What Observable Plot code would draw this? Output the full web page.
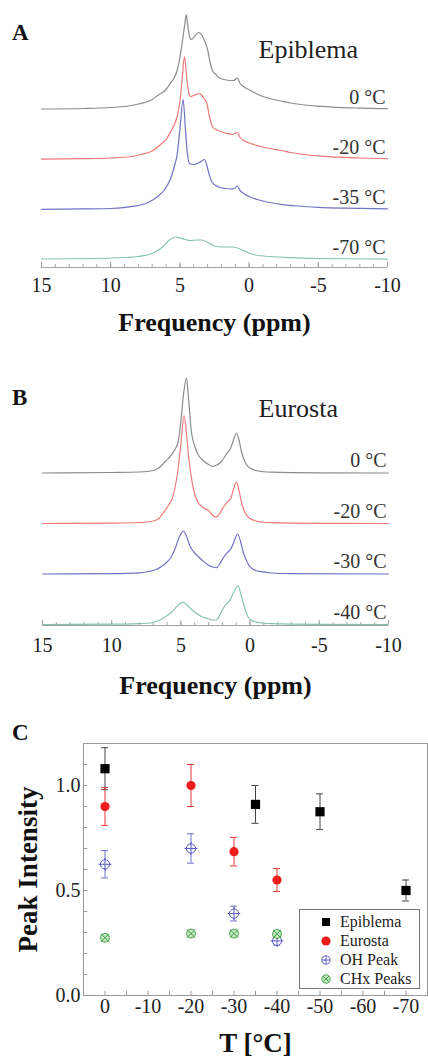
<!DOCTYPE html>
<html>
<head>
<meta charset="utf-8">
<script src="https://cdn.jsdelivr.net/npm/d3@7"></script>
<script src="https://cdn.jsdelivr.net/npm/@observablehq/plot@0.6"></script>
<style>
  html, body { margin: 0; padding: 0; background: #fff; }
  body { width: 428px; height: 1064px; position: relative; overflow: hidden; font-family: "Liberation Serif", "DejaVu Serif", serif; }
  .panel { position: absolute; left: 0; }
  .letter { position: absolute; left: 12px; font-weight: bold; font-size: 23px; line-height: 1; color: #111; }
  .legend { position: absolute; left: 299px; top: 909px; width: 119px; height: 78px; border: 1px solid #777; background: #fff; }
  .legend .row { position: absolute; left: 0; height: 19px; display: flex; align-items: center; font-size: 16px; color: #222; font-family: "Liberation Serif", serif; }
  .legend .row svg { margin-left: 20px; margin-right: 8px; }
</style>
</head>
<body>
<div class="letter" style="top:21px">A</div>
<div class="letter" style="top:386px">B</div>
<div class="letter" style="top:721px">C</div>
<div id="pA" class="panel" style="top:0px"></div>
<div id="pB" class="panel" style="top:340px"></div>
<div id="pC" class="panel" style="top:700px"></div>
<div id="legend" class="legend"></div>
<script>
// ---------------- DATA ----------------
// Panel A: Epiblema spectra, [ppm, intensity above baseline]
const epiblemaLabels = ["0 °C", "-20 °C", "-35 °C", "-70 °C"];
const epiblema0 = [[15,0.005],[12,0.01],[10,0.02],[8.5,0.04],[8,0.055],[7,0.10],[6.6,0.14],[6,0.20],[5.7,0.26],[5.4,0.32],[5.2,0.39],[5.0,0.52],[4.8,0.70],[4.65,0.85],[4.54,0.95],[4.42,0.82],[4.25,0.71],[4.15,0.70],[3.9,0.74],[3.63,0.77],[3.4,0.74],[3.2,0.68],[3.0,0.60],[2.8,0.46],[2.65,0.39],[2.4,0.35],[2.2,0.32],[1.8,0.30],[1.35,0.29],[1.1,0.29],[0.86,0.315],[0.65,0.26],[0.3,0.22],[-0.1,0.19],[-0.5,0.16],[-1.0,0.13],[-1.5,0.11],[-2.3,0.085],[-3,0.065],[-4,0.045],[-5,0.033],[-6,0.024],[-8,0.014],[-10,0.008]];
const epiblema20 = [[15,0.003],[12,0.008],[10,0.015],[8.5,0.03],[7.8,0.05],[7,0.085],[6.4,0.15],[6,0.2],[5.7,0.27],[5.4,0.35],[5.2,0.43],[5.0,0.58],[4.85,0.78],[4.67,1.03],[4.5,0.8],[4.35,0.66],[4.25,0.63],[4.0,0.64],[3.63,0.66],[3.4,0.64],[3.2,0.60],[3.05,0.56],[2.85,0.42],[2.65,0.33],[2.4,0.30],[2.05,0.28],[1.6,0.26],[1.2,0.25],[0.86,0.27],[0.65,0.22],[0.4,0.19],[0,0.165],[-0.35,0.15],[-1,0.125],[-1.5,0.11],[-2.3,0.09],[-3,0.07],[-4,0.05],[-5,0.036],[-6,0.026],[-8,0.015],[-10,0.009]];
const epiblema35 = [[15,0.002],[12,0.006],[10,0.01],[8.3,0.033],[7.3,0.07],[6.6,0.13],[6.1,0.2],[5.7,0.3],[5.4,0.43],[5.2,0.55],[5.0,0.8],[4.77,1.10],[4.6,0.8],[4.45,0.55],[4.3,0.46],[4.0,0.45],[3.6,0.47],[3.22,0.50],[3.05,0.44],[2.9,0.36],[2.67,0.27],[2.2,0.225],[1.7,0.21],[1.34,0.205],[1.05,0.21],[0.86,0.235],[0.65,0.19],[0.4,0.16],[0,0.13],[-0.6,0.10],[-1.3,0.075],[-2.3,0.052],[-3.5,0.035],[-5,0.022],[-7,0.013],[-10,0.006]];
const epiblema70 = [[15,0.005],[11,0.01],[9,0.02],[8,0.03],[7,0.06],[6.3,0.12],[5.8,0.19],[5.3,0.225],[5.0,0.215],[4.6,0.20],[4.25,0.19],[3.8,0.195],[3.4,0.195],[3.0,0.17],[2.5,0.135],[2.0,0.125],[1.5,0.125],[1.1,0.125],[0.6,0.10],[0.1,0.07],[-0.5,0.045],[-1.5,0.03],[-3,0.018],[-5,0.01],[-10,0.004]];

// Panel B: Eurosta spectra
const eurostaLabels = ["0 °C", "-20 °C", "-30 °C", "-40 °C"];
const eurosta0 = [[15,0],[10,0.005],[8,0.01],[7,0.025],[6.6,0.05],[6.3,0.09],[6.1,0.12],[5.8,0.16],[5.5,0.22],[5.2,0.31],[5.0,0.52],[4.8,0.8],[4.6,0.95],[4.45,0.75],[4.25,0.42],[4.0,0.27],[3.75,0.18],[3.5,0.14],[3.27,0.11],[3.0,0.085],[2.7,0.067],[2.4,0.08],[2.07,0.115],[1.8,0.17],[1.6,0.21],[1.4,0.25],[1.2,0.33],[0.98,0.40],[0.8,0.33],[0.62,0.21],[0.4,0.12],[0.14,0.063],[-0.3,0.03],[-0.6,0.02],[-1.5,0.008],[-3,0.003],[-10,0]];
const eurosta20 = [[15,0],[10,0.004],[8,0.01],[7,0.025],[6.6,0.05],[6.3,0.1],[6.1,0.14],[5.9,0.18],[5.6,0.26],[5.44,0.35],[5.2,0.55],[5.0,0.80],[4.77,1.08],[4.6,0.9],[4.45,0.68],[4.2,0.42],[4.0,0.29],[3.75,0.21],[3.4,0.16],[3.0,0.13],[2.7,0.08],[2.45,0.063],[2.2,0.1],[1.9,0.17],[1.6,0.22],[1.4,0.25],[1.2,0.34],[0.98,0.413],[0.8,0.33],[0.62,0.21],[0.4,0.12],[0.14,0.063],[-0.3,0.03],[-0.6,0.02],[-1.5,0.008],[-3,0.003],[-10,0]];
const eurosta30 = [[15,0],[10,0.004],[8,0.012],[7.3,0.025],[6.8,0.045],[6.4,0.075],[6.0,0.12],[5.68,0.175],[5.4,0.26],[5.2,0.34],[5.0,0.40],[4.83,0.43],[4.6,0.38],[4.35,0.28],[4.0,0.21],[3.75,0.175],[3.4,0.13],[3.03,0.09],[2.7,0.07],[2.43,0.063],[2.2,0.1],[1.9,0.17],[1.6,0.22],[1.4,0.25],[1.2,0.31],[0.91,0.40],[0.7,0.33],[0.5,0.22],[0.25,0.13],[0.02,0.073],[-0.4,0.035],[-0.8,0.023],[-1.5,0.01],[-3,0.004],[-10,0]];
const eurosta40 = [[15,0],[10,0.003],[8,0.008],[7,0.02],[6.6,0.04],[6.2,0.07],[5.68,0.123],[5.3,0.18],[5.0,0.215],[4.83,0.223],[4.6,0.2],[4.3,0.16],[4.0,0.123],[3.5,0.08],[3.03,0.057],[2.7,0.045],[2.45,0.045],[2.2,0.09],[1.9,0.17],[1.6,0.22],[1.47,0.24],[1.2,0.32],[0.86,0.39],[0.7,0.32],[0.5,0.22],[0.3,0.13],[0.14,0.073],[-0.2,0.035],[-0.6,0.02],[-1.5,0.008],[-3,0.003],[-10,0]];

const ppmTicks = [15, 10, 5, 0, -5, -10];

// Panel C: peak intensities
const seriesNames = ["Epiblema", "Eurosta", "OH Peak", "CHx Peaks"];
const tEpiblema = [0, -35, -50, -70];
const vEpiblema = [1.08, 0.91, 0.875, 0.50];
const eEpiblema = [0.10, 0.09, 0.085, 0.05];
const tEurosta = [0, -20, -30, -40];
const vEurosta = [0.90, 1.00, 0.685, 0.55];
const eEurosta = [0.09, 0.10, 0.068, 0.055];
const tOH = [0, -20, -30, -40];
const vOH = [0.625, 0.70, 0.39, 0.26];
const eOH = [0.065, 0.07, 0.035, 0.02];
const tCHx = [0, -20, -30, -40];
const vCHx = [0.275, 0.295, 0.295, 0.293];
const eCHx = [0.015, 0.015, 0.015, 0.015];
const tTicks = [0, -10, -20, -30, -40, -50, -60, -70];
const iTicks = [0.0, 0.5, 1.0];

// ---------------- STYLE ----------------
const FONT = "Liberation Serif, DejaVu Serif, serif";
const specColors = ["#8c8c8c", "#f07a7a", "#7272c4", "#86c4ab"];

function spectrumPanel(el, spectra, labels, name, o) {
  const rows = [];
  spectra.forEach((s, i) => {
    const off = o.base + (spectra.length - 1 - i) * o.step;
    s.forEach(([ppm, h]) => rows.push({ser: labels[i], ppm, y: h + off}));
  });
  const labRows = labels.map((l, i) => ({l, y: o.base + (labels.length - 1 - i) * o.step + 0.12}));
  const minor = d3.range(-10, 15.5, 1);
  const chart = Plot.plot({
    width: 428, height: o.height,
    marginLeft: o.ml, marginRight: o.mr, marginTop: o.mt, marginBottom: o.mb,
    x: {domain: [15, -10]},
    y: {domain: [0, 2.6], axis: null},
    color: {domain: labels, range: specColors},
    style: {fontFamily: FONT, background: "transparent", color: "#222"},
    marks: [
      Plot.ruleY([0], {stroke: "#a0a0a0", strokeWidth: 1.2}),
      Plot.ruleX(minor, {y1: 0, y2: 0.03, stroke: "#a8a8a8"}),
      Plot.ruleX(ppmTicks, {y1: 0, y2: 0.05, stroke: "#a0a0a0"}),
      Plot.axisX({ticks: ppmTicks, tickSize: 0, tickPadding: o.pad, fontSize: 20, tickFormat: d => String(d), label: null}),
      Plot.line(rows, {x: "ppm", y: "y", z: "ser", stroke: "ser", strokeWidth: 1.2, curve: "monotone-x"}),
      Plot.text(labRows, {y: "y", text: "l", frameAnchor: "right", textAnchor: "end", lineAnchor: "middle", dx: -2, fontSize: 20, fill: "#333"}),
      Plot.text([name], {frameAnchor: "top-left", textAnchor: "start", lineAnchor: "middle", dx: o.nameDx, dy: o.nameDy, fontSize: 26, fill: "#222"}),
      Plot.text(["Frequency (ppm)"], {frameAnchor: "bottom", lineAnchor: "middle", dy: o.titleDy, fontSize: 26, fontWeight: "bold", fill: "#111"})
    ]
  });
  el.appendChild(chart);
}

spectrumPanel(document.getElementById("pA"),
  [epiblema0, epiblema20, epiblema35, epiblema70], epiblemaLabels, "Epiblema",
  {height: 340, ml: 41, mr: 41, mt: 7, mb: 73, base: 0.08, step: 0.5, pad: 10, nameDx: 217, nameDy: 42, titleDy: 55});

spectrumPanel(document.getElementById("pB"),
  [eurosta0, eurosta20, eurosta30, eurosta40], eurostaLabels, "Eurosta",
  {height: 360, ml: 42, mr: 40, mt: 25, mb: 75, base: 0.01, step: 0.505, pad: 12, nameDx: 216, nameDy: 43, titleDy: 60});

// ---------------- PANEL C ----------------
const groups = [
  {name: seriesNames[0], t: tEpiblema, v: vEpiblema, e: eEpiblema, err: "#444"},
  {name: seriesNames[1], t: tEurosta, v: vEurosta, e: eEurosta, err: "#e8383a"},
  {name: seriesNames[2], t: tOH, v: vOH, e: eOH, err: "#6f6fd0"},
  {name: seriesNames[3], t: tCHx, v: vCHx, e: eCHx, err: "#5cb35c"}
].map(g => ({...g, rows: g.t.map((T, i) => ({T, v: g.v[i], lo: g.v[i] - g.e[i], hi: g.v[i] + g.e[i]}))}));

const xDom = [5, -75];
const cap = 0.8;
const markFor = (g) => {
  const r = g.rows;
  const m = [
    Plot.ruleX(r, {x: "T", y1: "lo", y2: "hi", stroke: g.err, strokeWidth: 1}),
    Plot.ruleY(r, {y: "hi", x1: d => d.T + cap, x2: d => d.T - cap, stroke: g.err}),
    Plot.ruleY(r, {y: "lo", x1: d => d.T + cap, x2: d => d.T - cap, stroke: g.err})
  ];
  if (g.name === "Epiblema") m.push(Plot.dot(r, {x: "T", y: "v", symbol: "square", r: 5.2, fill: "#000"}));
  if (g.name === "Eurosta") m.push(Plot.dot(r, {x: "T", y: "v", r: 4.6, fill: "#ee1c1c"}));
  if (g.name === "OH Peak") {
    m.push(Plot.dot(r, {x: "T", y: "v", r: 4.6, fill: "#fff", stroke: "#5a5ac8", strokeWidth: 1}));
    m.push(Plot.dot(r, {x: "T", y: "v", symbol: "plus", r: 4.2, stroke: "#5a5ac8", strokeWidth: 1}));
  }
  if (g.name === "CHx Peaks") {
    m.push(Plot.dot(r, {x: "T", y: "v", r: 4.4, fill: "#c9e8c9", stroke: "#3fa33f", strokeWidth: 1}));
    m.push(Plot.dot(r, {x: "T", y: "v", symbol: "times", r: 3.8, stroke: "#3fa33f", strokeWidth: 1}));
  }
  return m;
};

const chartC = Plot.plot({
  width: 428, height: 364,
  marginLeft: 83, marginRight: 1, marginTop: 43, marginBottom: 69,
  x: {domain: xDom},
  y: {domain: [0, 1.2]},
  style: {fontFamily: FONT, background: "transparent", color: "#222"},
  marks: [
    Plot.frame({stroke: "#9a9a9a"}),
    Plot.ruleX(d3.range(0, -75, -5), {y1: 0, y2: 0.02, stroke: "#9a9a9a"}),
    Plot.ruleY(d3.range(0, 1.21, 0.1), {x1: xDom[0], x2: xDom[0] - 1, stroke: "#9a9a9a"}),
    Plot.axisX({ticks: tTicks, tickSize: 0, tickPadding: 3, fontSize: 20, tickFormat: d => String(d), label: null}),
    Plot.axisY({ticks: iTicks, tickSize: 0, tickPadding: 3, fontSize: 20, tickFormat: d => d.toFixed(1), label: null}),
    ...groups.flatMap(markFor),
    Plot.text(["T [°C]"], {frameAnchor: "bottom", lineAnchor: "middle", dy: 48, fontSize: 27, fontWeight: "bold", fill: "#111"}),
    Plot.text(["Peak Intensity"], {frameAnchor: "left", textAnchor: "middle", rotate: -90, lineAnchor: "middle", dx: -55, fontSize: 27, fontWeight: "bold", fill: "#111"})
  ]
});
document.getElementById("pC").appendChild(chartC);

// Legend (HTML)
const legendSym = {
  "Epiblema": '<rect x="2" y="2" width="8" height="8" fill="#000"/>',
  "Eurosta": '<circle cx="6" cy="6" r="4.6" fill="#ee1c1c"/>',
  "OH Peak": '<circle cx="6" cy="6" r="4.2" fill="#fff" stroke="#5a5ac8"/><path d="M2,6H10M6,2V10" stroke="#5a5ac8"/>',
  "CHx Peaks": '<circle cx="6" cy="6" r="4.2" fill="#c9e8c9" stroke="#3fa33f"/><path d="M3.2,3.2L8.8,8.8M8.8,3.2L3.2,8.8" stroke="#3fa33f"/>'
};
const leg = document.getElementById("legend");
seriesNames.forEach((n, i) => {
  const row = document.createElement("div");
  row.className = "row";
  row.style.top = (2 + i * 19) + "px";
  row.innerHTML = `<svg width="12" height="12">${legendSym[n]}</svg><span>${n}</span>`;
  leg.appendChild(row);
});
</script>
</body>
</html>
